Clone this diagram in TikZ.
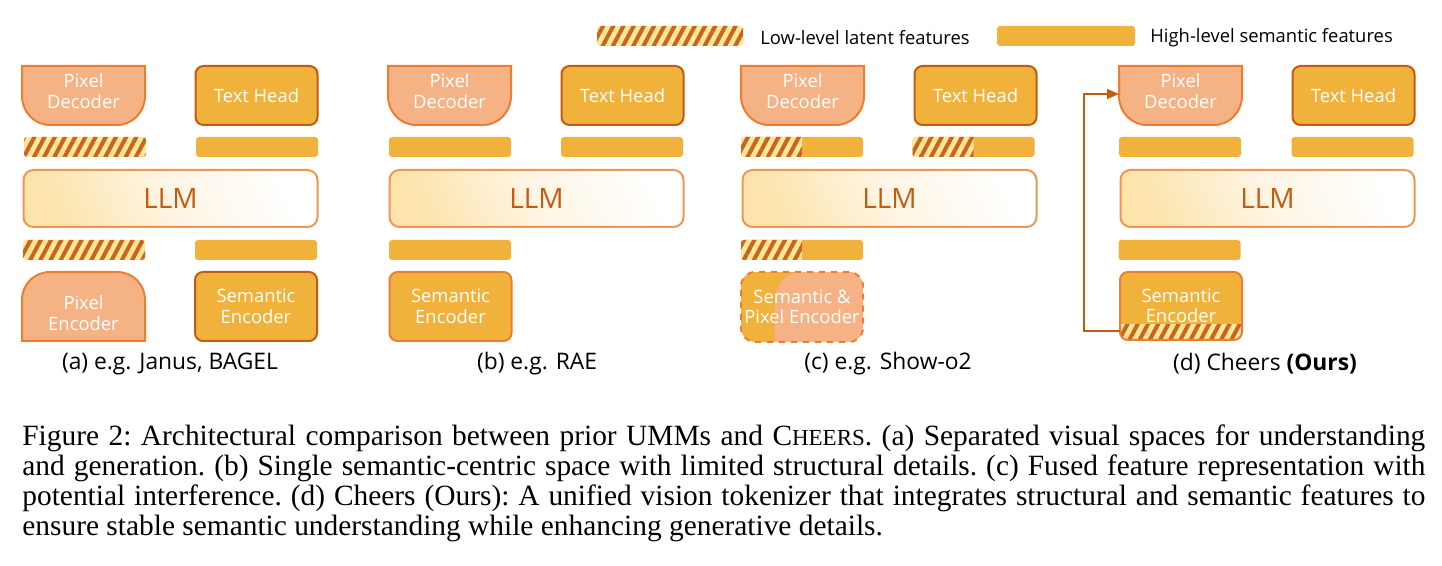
\documentclass[tikz,border=0pt]{standalone}
\usepackage{fontspec}
\setmainfont{Liberation Serif}
\newfontfamily\diagfont{Open Sans}
\usetikzlibrary{patterns.meta,arrows.meta}

\definecolor{salmon}{RGB}{245,178,132}
\definecolor{orangeline}{RGB}{237,125,49}
\definecolor{gold}{RGB}{240,178,58}
\definecolor{darkline}{RGB}{197,90,17}
\definecolor{stripe}{RGB}{200,100,30}
\definecolor{paleyellow}{RGB}{255,230,153}
\definecolor{llmyellow}{RGB}{252,228,172}
\definecolor{llmcream}{RGB}{254,245,228}
\definecolor{llmline}{RGB}{241,150,80}

\tikzset{
  boxtext/.style={font=\diagfont\fontsize{9.2}{10.2}\selectfont, text=white, align=center, inner sep=0pt},
  pixelshape/.style={fill=salmon, draw=orangeline, line width=1pt},
  textbox/.style={boxtext, fill=gold, draw=darkline, line width=1pt, rounded corners=4pt,
    minimum width=61pt, minimum height=29.5pt},
  semantic/.style={textbox, minimum height=34.5pt},
  semanticlight/.style={semantic, draw=orangeline},
  goldbar/.style={fill=gold, rounded corners=1.5pt, minimum width=61pt, minimum height=10pt, inner sep=0pt},
  latentbar/.style={goldbar, fill=paleyellow,
    postaction={pattern={Lines[angle=62,distance=4.5pt,line width=2pt]}, pattern color=stripe}},
  llmbox/.style={draw=llmline, line width=1pt, rounded corners=5pt, left color=llmyellow, right color=white,
    middle color=llmcream, shading angle=115, minimum width=147pt, minimum height=28.5pt,
    font=\diagfont\fontsize{14}{16}\selectfont, text=darkline},
  flow/.style={draw=darkline, line width=0.8pt, -{Triangle[length=6pt,width=5pt]}},
  sublabel/.style={font=\diagfont\fontsize{11.4}{13}\selectfont, inner sep=0pt},
  legendtext/.style={font=\diagfont\fontsize{9.2}{10}\selectfont, anchor=west, inner sep=0pt},
}

% gold bar with hatched left half
\newcommand{\mixbar}[3]{%
  \node[goldbar] (#1) at (#2,#3) {};
  \begin{scope}
    \clip (#1.south west) rectangle (#1.north);
    \node[latentbar] at (#2,#3) {};
  \end{scope}}

\begin{document}
\begin{tikzpicture}[x=0.5pt,y=-0.5pt]
    \useasboundingbox (0,0) rectangle (1442,566);

    %% Legend
    \node[latentbar, minimum width=73pt] (legLow) at (670,36) {};
    \node[legendtext] (legLowText) at (760,38) {Low-level latent features};
    \node[goldbar, minimum width=69pt] (legHigh) at (1066,36) {};
    \node[legendtext] (legHighText) at (1150,38) {High-level semantic features};

    %% Pixel decoder, text head and LLM of every panel
    \foreach \x/\n in {22/A,388/B,741/C,1119/D}{
        \draw[pixelshape] (\x,66) -- ({\x+123},66) -- ({\x+123},96)
            .. controls ({\x+123},112) and ({\x+110.5},125) .. ({\x+95},125)
            -- ({\x+28},125) .. controls ({\x+12.5},125) and (\x,112) .. (\x,96) -- cycle;
        \node[boxtext] (dec\n) at ({\x+61.5},91) {Pixel\\Decoder};
        \node[textbox] (head\n) at ({\x+234.5},95.5) {Text Head};
        \node[llmbox] (llm\n) at ({\x+148.5},198.5) {LLM};
    }

    %% (a) separated spaces
    \node[latentbar] (lowA1) at (85,147) {};
    \node[goldbar] (highA1) at (257,147) {};
    \node[latentbar] (lowA2) at (84,250) {};
    \node[goldbar] (highA2) at (256,250) {};
    \draw[pixelshape] (22,341) -- (22,300) .. controls (22,284) and (34.5,272) .. (50,272)
        -- (117,272) .. controls (132.5,272) and (145,284) .. (145,300) -- (145,341) -- cycle;
    \node[boxtext] (pixencA) at (83.5,313) {Pixel\\Encoder};
    \node[semantic] (semencA) at (256,306.5) {Semantic\\Encoder};
    \node[sublabel] (labelA) at (170,364) {(a) e.g. Janus, BAGEL};

    %% (b) single semantic space
    \node[goldbar] (highB1) at (450,147) {};
    \node[goldbar] (highB2) at (622,147) {};
    \node[goldbar] (highB3) at (450,250) {};
    \node[semanticlight] (semencB) at (450.5,306.5) {Semantic\\Encoder};
    \node[sublabel] (labelB) at (537,364) {(b) e.g. RAE};

    %% (c) fused features
    \mixbar{mixC1}{802}{147}
    \mixbar{mixC2}{973.5}{147}
    \mixbar{mixC3}{802}{250}
    \begin{scope}
        \clip[rounded corners=7pt] (741,272) rectangle (863,342);
        \fill[gold] (741,272) rectangle (863,342);
        \fill[salmon] (775,342) -- (775,300) .. controls (775,284) and (786,272) .. (803,272)
            -- (863,272) -- (863,342) -- cycle;
    \end{scope}
    \node[boxtext, draw=orangeline, line width=1pt, dashed, rounded corners=7pt,
        minimum width=61pt, minimum height=35pt] (encC) at (802,307) {Semantic \&\\Pixel Encoder};
    \node[sublabel] (labelC) at (888,364) {(c) e.g. Show-o2};

    %% (d) Cheers
    \node[goldbar] (highD1) at (1180,147) {};
    \node[goldbar] (highD2) at (1352.5,147) {};
    \node[goldbar] (highD3) at (1179.5,250) {};
    \node[semantic, draw=none] (semencD) at (1181,306) {Semantic\\Encoder};
    \begin{scope}
        \clip (1110,325) rectangle (1250,345);
        \node[latentbar, rounded corners=4pt, minimum height=34pt] at (1181,306) {};
    \end{scope}
    \node[semanticlight, minimum height=34pt, fill=none] (semborderD) at (1181,306) {};
    \coordinate (semDout) at (1120,331);
    \coordinate (decDin) at (1119,94);
    \draw[flow] (semDout) -- ++(-36,0) |- (decDin);
    \node[sublabel] (labelD) at (1265,364) {(d) Cheers \textbf{(Ours)}};

    %% Caption
    \node[anchor=north west, inner sep=0pt, text width=701.5pt, align=justify,
        font=\fontsize{14.7}{15}\selectfont\frenchspacing] (caption) at (22,424)
        {Figure 2: Architectural comparison between prior UMMs and C{\fontsize{11.5}{15}\selectfont HEERS}. (a) Separated visual spaces for understanding\linebreak
        and generation. (b) Single semantic-centric space with limited structural details. (c) Fused feature representation with\linebreak
        potential interference. (d) Cheers (Ours): A unified vision tokenizer that integrates structural and semantic features to\linebreak
        ensure stable semantic understanding while enhancing generative details.};
\end{tikzpicture}
\end{document}
